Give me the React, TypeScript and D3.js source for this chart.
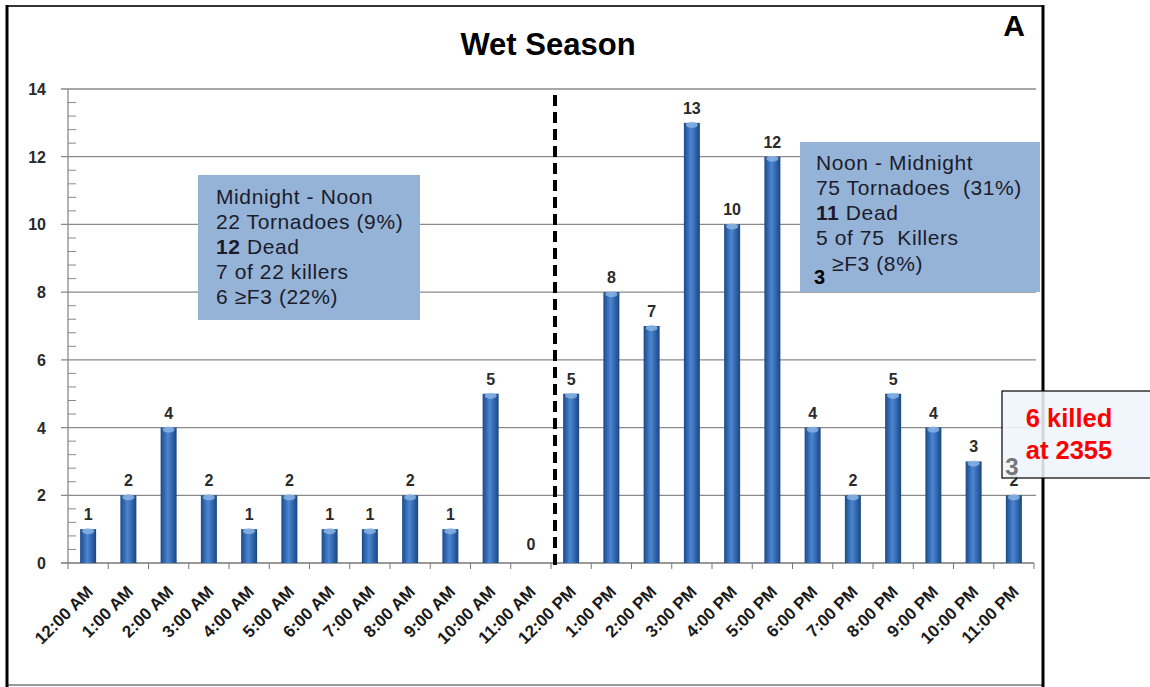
import * as d3 from "d3";

const hours = [
  "12:00 AM", "1:00 AM", "2:00 AM", "3:00 AM", "4:00 AM", "5:00 AM",
  "6:00 AM", "7:00 AM", "8:00 AM", "9:00 AM", "10:00 AM", "11:00 AM",
  "12:00 PM", "1:00 PM", "2:00 PM", "3:00 PM", "4:00 PM", "5:00 PM",
  "6:00 PM", "7:00 PM", "8:00 PM", "9:00 PM", "10:00 PM", "11:00 PM",
];
const counts = [1, 2, 4, 2, 1, 2, 1, 1, 2, 1, 5, 0, 5, 8, 7, 13, 10, 12, 4, 2, 5, 4, 3, 2];
const yTicks = [0, 2, 4, 6, 8, 10, 12, 14];
const amLines = ["Midnight - Noon", "22 Tornadoes (9%)", "12 Dead", "7 of 22 killers", "6 ≥F3 (22%)"];
const pmLines = ["Noon - Midnight", "75 Tornadoes  (31%)", "11 Dead", "5 of 75  Killers"];

const W = 1150;
const H = 687;
const FONT = "'Liberation Sans', Arial, sans-serif";

export default function App() {
  const x = d3.scaleBand<string>().domain(hours).range([68, 1034]).paddingInner(0);
  const y = d3.scaleLinear().domain([0, 14]).range([563, 89]);
  const barW = 16;
  const minor = d3.range(0, 14.01, 0.4).filter((v) => Math.abs(v / 2 - Math.round(v / 2)) > 0.01);
  const splitX = (x("12:00 PM") ?? 0) + 4;
  const boxText = { fontSize: 21, letterSpacing: 0.6, fill: "#1b1b2a" };

  return (
    <div style={{ position: "fixed", left: 0, top: 0 }}>
      <svg width={W} height={H} style={{ display: "block", fontFamily: FONT }}>
        <defs>
          <linearGradient id="barGrad" x1="0" x2="1" y1="0" y2="0">
            <stop offset="0" stopColor="#1c4a8a" />
            <stop offset="0.45" stopColor="#4a86d2" />
            <stop offset="1" stopColor="#1a4583" />
          </linearGradient>
        </defs>
        <rect x={0} y={0} width={W} height={H} fill="#fff" />

        {/* frame */}
        <line x1={6} x2={1043} y1={6} y2={6} stroke="#333" strokeWidth={2} />
        <line x1={6} x2={1043} y1={685} y2={685} stroke="#999" strokeWidth={2} />
        <line x1={7} x2={7} y1={5} y2={687} stroke="#000" strokeWidth={3} />

        <text x={548} y={55} textAnchor="middle" fontSize={31} fontWeight="bold">Wet Season</text>
        <text x={1014} y={36} textAnchor="middle" fontSize={30} fontWeight="bold">A</text>

        {/* gridlines */}
        {yTicks.map((t) => (
          <g key={t}>
            {t > 0 && <line x1={61} x2={1036} y1={y(t)} y2={y(t)} stroke="#8a8a8a" strokeWidth={1.3} />}
            <text x={46} y={y(t) + 6} textAnchor="end" fontSize={16} fontWeight="bold" fill="#2a2a2a">{t}</text>
          </g>
        ))}
        {minor.map((m) => (
          <line key={m} x1={68} x2={76} y1={y(m)} y2={y(m)} stroke="#8a8a8a" strokeWidth={1} />
        ))}
        <line x1={68} x2={68} y1={89} y2={563} stroke="#8a8a8a" strokeWidth={1.3} />

        {/* x axis */}
        <line x1={61} x2={1034} y1={563} y2={563} stroke="#777" strokeWidth={1.5} />
        {hours.map((h) => (
          <line key={h} x1={x(h)} x2={x(h)} y1={563} y2={569} stroke="#777" strokeWidth={1} />
        ))}
        <line x1={1034} x2={1034} y1={563} y2={569} stroke="#777" strokeWidth={1} />

        {/* bars */}
        {hours.map((h, i) => {
          const cx = (x(h) ?? 0) + x.bandwidth() / 2;
          const v = counts[i];
          const top = y(v);
          return (
            <g key={h}>
              {v > 0 && (
                <>
                  <rect x={cx - barW / 2} y={top} width={barW} height={563 - top} fill="url(#barGrad)" />
                  <ellipse cx={cx} cy={top + 2} rx={barW / 2 - 2} ry={3} fill="#8fb6e6" opacity={0.8} />
                </>
              )}
              <text
                x={cx}
                y={v > 0 ? top - 9 : 550}
                textAnchor="middle"
                fontSize={16}
                fontWeight="bold"
                fill="#2a2a2a"
              >
                {v}
              </text>
              <text
                transform={`translate(${cx + 6},${593}) rotate(-45)`}
                textAnchor="end"
                fontSize={17}
                fontWeight="bold"
                fill="#1a1a1a"
              >
                {h}
              </text>
            </g>
          );
        })}

        {/* noon divider */}
        <line x1={splitX} x2={splitX} y1={95} y2={571} stroke="#000" strokeWidth={4} strokeDasharray="11,6" />

        {/* midnight-noon box */}
        <rect x={198} y={175} width={222} height={145} fill="#95b3d7" />
        {amLines.map((l, i) => (
          <text key={l} x={216} y={204 + i * 25} {...boxText}>
            {i === 2 ? (
              <>
                <tspan fontWeight="bold">12</tspan> Dead
              </>
            ) : (
              l
            )}
          </text>
        ))}

        {/* noon-midnight box */}
        <rect x={800} y={142} width={240} height={150} fill="#95b3d7" />
        {pmLines.map((l, i) => (
          <text key={l} x={816} y={170 + i * 25} {...boxText} style={{ whiteSpace: "pre" }}>
            {i === 2 ? (
              <>
                <tspan fontWeight="bold">11</tspan> Dead
              </>
            ) : (
              l
            )}
          </text>
        ))}
        <text x={814} y={284} fontSize={20} fontWeight="bold" fill="#000">3</text>
        <text x={832} y={271} {...boxText}>≥F3 (8%)</text>

        {/* right frame */}
        <line x1={1043} x2={1043} y1={5} y2={687} stroke="#000" strokeWidth={3} />

        {/* killed callout */}
        <rect x={1002} y={391} width={150} height={87} fill="#eef5fa" fillOpacity={0.88} stroke="#000" strokeWidth={1.2} />
        <text x={1069} y={427} textAnchor="middle" fontSize={25.5} fontWeight="bold" fill="#ff0000">6 killed</text>
        <text x={1069} y={459} textAnchor="middle" fontSize={25.5} fontWeight="bold" fill="#ff0000">at 2355</text>
        <text x={1012} y={475} textAnchor="middle" fontSize={24} fontWeight="bold" fill="#777">3</text>
      </svg>
    </div>
  );
}
